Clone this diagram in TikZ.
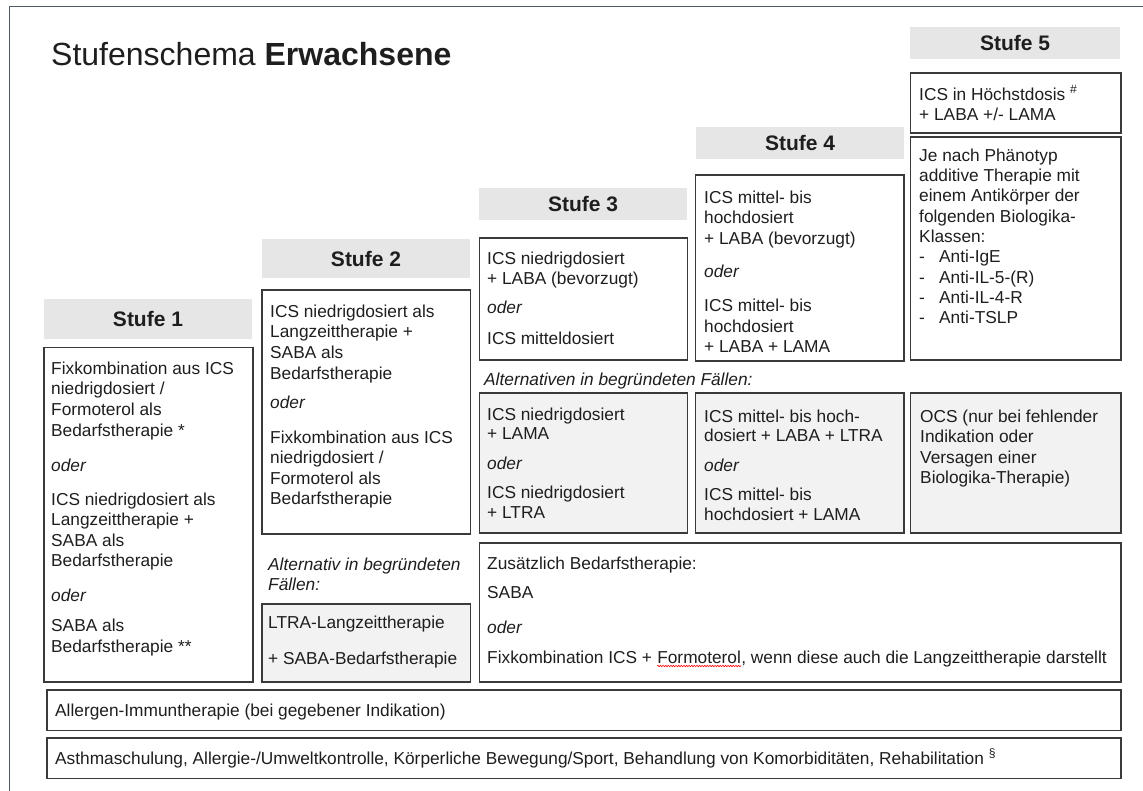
\documentclass[tikz,border=0pt]{standalone}
\usepackage{fontspec}
\setmainfont{Liberation Sans}
\usetikzlibrary{decorations.pathmorphing}

\definecolor{framec}{HTML}{4F5A6C}
\definecolor{linec}{HTML}{3A3A3A}
\definecolor{headfill}{HTML}{E6E6E6}
\definecolor{altfill}{HTML}{F2F2F2}
\definecolor{textc}{HTML}{1E1E1E}

\tikzset{
  box/.style={draw=linec, line width=1.5pt},
  altbox/.style={box, fill=altfill},
  head/.style={fill=headfill},
  headtxt/.style={font=\fontsize{21}{24}\selectfont\bfseries, text=textc, inner sep=0pt},
  txt/.style={font=\fontsize{17.3}{20.6}\selectfont, text=textc, align=left, inner sep=0pt, anchor=north west},
  linetxt/.style={font=\fontsize{17.3}{20.6}\selectfont, text=textc, inner sep=0pt, anchor=base west},
  spell/.style={draw=red, line width=0.6pt, decorate, decoration={snake, amplitude=0.7pt, segment length=2.6pt}},
}

\begin{document}
\begin{tikzpicture}[x=1pt, y=-1pt]
\useasboundingbox (0,0) rectangle (1143,791);

% page frame (top and left edge)
\draw[framec, line width=1.6pt] (9.5,791) -- (9.5,6.5) -- (1143,6.5);

% title
\node[anchor=base west, inner sep=0pt, text=textc, font=\fontsize{32}{36}\selectfont] (title) at (51,66)
  {Stufenschema \textbf{Erwachsene}};

% ---- step headers ----
\fill[head] (44,299) rectangle (252,339);
\node[headtxt] (h1) at (148,319) {Stufe 1};
\fill[head] (262,239) rectangle (470,278);
\node[headtxt] (h2) at (366,258.5) {Stufe 2};
\fill[head] (479,188) rectangle (687,220);
\node[headtxt] (h3) at (583,204) {Stufe 3};
\fill[head] (696,127) rectangle (904,159);
\node[headtxt] (h4) at (800,143) {Stufe 4};
\fill[head] (910,27) rectangle (1120,59);
\node[headtxt] (h5) at (1015,43) {Stufe 5};

% ---- Stufe 1 ----
\draw[box] (44,347.5) rectangle (253,682);
\node[txt] (s1) at (51,361.5) {Fixkombination aus ICS\\ niedrigdosiert /\\ Formoterol als\\ Bedarfstherapie *\\[14.4pt]
  \textit{oder}\\[13.4pt]
  ICS niedrigdosiert als\\ Langzeittherapie +\\ SABA als\\ Bedarfstherapie\\[14.4pt]
  \textit{oder}\\[9.4pt]
  SABA als\\ Bedarfstherapie **};

% ---- Stufe 2 ----
\draw[box] (262,290) rectangle (470.5,534);
\node[txt] (s2) at (270,304.5) {ICS niedrigdosiert als\\ Langzeittherapie +\\ SABA als\\ Bedarfstherapie\\[8.4pt]
  \textit{oder}\\[14.4pt]
  Fixkombination aus ICS\\ niedrigdosiert /\\ Formoterol als\\ Bedarfstherapie};
\node[txt, font=\fontsize{17.3}{20}\selectfont\itshape] (s2alt) at (268,557.5) {Alternativ in begründeten\\ Fällen:};
\draw[altbox] (262,604) rectangle (470.5,682);
\node[txt] (s2ltra) at (268,615.5) {LTRA-Langzeittherapie\\[15.4pt] + SABA-Bedarfstherapie};

% ---- Stufe 3 ----
\draw[box] (479.5,238) rectangle (687.5,360);
\node[txt] (s3) at (487,251.5) {ICS niedrigdosiert\\ + LABA (bevorzugt)\\[8.4pt]
  \textit{oder}\\[10.4pt]
  ICS mitteldosiert};

% ---- Stufe 4 ----
\draw[box] (695.5,175) rectangle (904,361);
\node[txt] (s4) at (704,190.5) {ICS mittel- bis\\ hochdosiert\\ + LABA (bevorzugt)\\[12.4pt]
  \textit{oder}\\[13.4pt]
  ICS mittel- bis\\ hochdosiert\\ + LABA + LAMA};

% ---- Stufe 5 ----
\draw[box] (910.5,73) rectangle (1121,133);
\node[txt] (s5a) at (919,85.5) {ICS in Höchstdosis \textsuperscript{\#}\\ + LABA +/- LAMA};
\draw[box] (910.5,137) rectangle (1121,360);
\node[txt, font=\fontsize{17.3}{20.3}\selectfont] (s5b) at (919,148.5) {Je nach Phänotyp\\ additive Therapie mit\\ einem Antikörper der\\ folgenden Biologika-\\ Klassen:\\
  \makebox[20pt][l]{-}Anti-IgE\\
  \makebox[20pt][l]{-}Anti-IL-5-(R)\\
  \makebox[20pt][l]{-}Anti-IL-4-R\\
  \makebox[20pt][l]{-}Anti-TSLP};

% ---- alternatives row ----
\node[txt, font=\fontsize{17.3}{20}\selectfont\itshape] (alt) at (484,372.5) {Alternativen in begründeten Fällen:};

\draw[altbox] (479.5,393) rectangle (687.5,533);
\node[txt, font=\fontsize{17.3}{19.6}\selectfont] (a3) at (487,407.5) {ICS niedrigdosiert\\ + LAMA\\[10.4pt]
  \textit{oder}\\[9.4pt]
  ICS niedrigdosiert\\ + LTRA};
\draw[altbox] (695.5,393) rectangle (904,533);
\node[txt, font=\fontsize{17.3}{19.6}\selectfont] (a4) at (704,409.5) {ICS mittel- bis hoch-\\ dosiert + LABA + LTRA\\[10.4pt]
  \textit{oder}\\[9.4pt]
  ICS mittel- bis\\ hochdosiert + LAMA};
\draw[altbox] (910.5,393) rectangle (1121,533);
\node[txt, font=\fontsize{17.3}{20.4}\selectfont] (a5) at (920,409.5) {OCS (nur bei fehlender\\ Indikation oder\\ Versagen einer\\ Biologika-Therapie)};

% ---- reliever therapy ----
\draw[box] (479.5,543) rectangle (1121,682);
\node[txt] (rel) at (487,556.5) {Zusätzlich Bedarfstherapie:\\[8.4pt] SABA\\[14.4pt] \textit{oder}};
\node[linetxt] (fx1) at (487,663) {Fixkombination ICS +};
\node[linetxt] (fx2) at ([xshift=4.8pt]fx1.base east) {Formoterol};
\node[linetxt] (fx3) at (fx2.base east) {, wenn diese auch die Langzeittherapie darstellt};
\draw[spell] ([yshift=-3pt]fx2.base west) -- ([yshift=-3pt]fx2.base east);

% ---- general measures ----
\draw[box] (47,690) rectangle (1121,730.5);
\node[linetxt] (ait) at (55,716) {Allergen-Immuntherapie (bei gegebener Indikation)};
\draw[box] (47,738) rectangle (1121,778.5);
\node[linetxt] (gen) at (55,764) {Asthmaschulung, Allergie-/Umweltkontrolle, Körperliche Bewegung/Sport, Behandlung von Komorbiditäten, Rehabilitation \textsuperscript{§}};

\end{tikzpicture}
\end{document}
